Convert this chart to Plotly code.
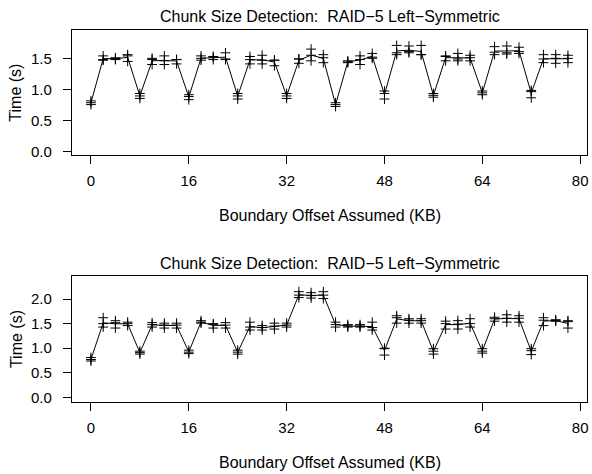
import plotly.graph_objects as go

offsets = list(range(0, 80, 2))

top_trial_hi = [0.82, 1.55, 1.52, 1.57, 0.94, 1.51, 1.55, 1.49, 0.92, 1.55,
                1.54, 1.60, 0.94, 1.54, 1.56, 1.48, 0.94, 1.50, 1.66, 1.57,
                0.79, 1.47, 1.55, 1.59, 0.98, 1.72, 1.71, 1.72, 0.94, 1.55,
                1.59, 1.56, 0.98, 1.70, 1.71, 1.69, 0.99, 1.57, 1.57, 1.56]
top_trial_lo = [0.76, 1.48, 1.49, 1.46, 0.86, 1.41, 1.41, 1.42, 0.84, 1.48,
                1.49, 1.50, 0.85, 1.42, 1.42, 1.39, 0.86, 1.43, 1.47, 1.44,
                0.73, 1.44, 1.41, 1.51, 0.85, 1.57, 1.60, 1.57, 0.88, 1.47,
                1.47, 1.47, 0.92, 1.57, 1.58, 1.59, 0.87, 1.44, 1.43, 1.44]
top_trial_mid = [0.79, 1.49, 1.50, 1.55, 0.90, 1.49, 1.47, 1.49, 0.89, 1.51,
                 1.53, 1.49, 0.90, 1.49, 1.48, 1.48, 0.90, 1.50, 1.56, 1.52,
                 0.76, 1.45, 1.49, 1.53, 0.94, 1.60, 1.62, 1.57, 0.91, 1.54,
                 1.50, 1.52, 0.95, 1.61, 1.60, 1.62, 0.97, 1.50, 1.51, 1.51]

bot_trial_hi = [0.81, 1.62, 1.56, 1.53, 0.94, 1.52, 1.51, 1.51, 0.96, 1.56,
                1.50, 1.52, 0.96, 1.53, 1.46, 1.51, 1.51, 2.15, 2.13, 2.15,
                1.53, 1.48, 1.48, 1.53, 1.00, 1.66, 1.60, 1.60, 0.99, 1.55,
                1.56, 1.60, 0.99, 1.63, 1.68, 1.66, 0.99, 1.62, 1.58, 1.56]
bot_trial_lo = [0.74, 1.43, 1.41, 1.46, 0.88, 1.43, 1.41, 1.41, 0.89, 1.51,
                1.41, 1.41, 0.88, 1.37, 1.37, 1.39, 1.43, 2.03, 2.02, 2.01,
                1.43, 1.43, 1.43, 1.37, 0.86, 1.51, 1.51, 1.51, 0.88, 1.39,
                1.39, 1.43, 0.90, 1.55, 1.53, 1.53, 0.87, 1.46, 1.55, 1.41]
bot_trial_mid = [0.77, 1.50, 1.52, 1.50, 0.91, 1.48, 1.47, 1.47, 0.92, 1.53,
                 1.48, 1.47, 0.92, 1.43, 1.42, 1.45, 1.47, 2.08, 2.07, 2.08,
                 1.48, 1.45, 1.45, 1.42, 0.99, 1.62, 1.57, 1.56, 0.94, 1.50,
                 1.49, 1.50, 0.94, 1.60, 1.61, 1.61, 0.95, 1.57, 1.56, 1.54]

x_ticks = [0, 16, 32, 48, 64, 80]
top_y_ticks = [0.0, 0.5, 1.0, 1.5]
bot_y_ticks = [0.0, 0.5, 1.0, 1.5, 2.0]

title_text = "Chunk Size Detection:  RAID\u22125 Left\u2212Symmetric"
x_title = "Boundary Offset Assumed (KB)"
y_title = "Time (s)"

W, H = 592, 474
FONT = "Liberation Sans, Arial, Helvetica, sans-serif"

fig = go.Figure()

panels = [
    ("x", "y", [top_trial_hi, top_trial_lo, top_trial_mid]),
    ("x2", "y2", [bot_trial_hi, bot_trial_lo, bot_trial_mid]),
]
for xa, ya, trials in panels:
    mean = [sum(v) / len(v) for v in zip(*trials)]
    fig.add_trace(go.Scatter(x=offsets, y=mean, mode="lines",
                             line=dict(color="black", width=1),
                             xaxis=xa, yaxis=ya, showlegend=False,
                             hoverinfo="skip"))
    xs, ys = [], []
    for t in trials:
        xs += offsets
        ys += t
    fig.add_trace(go.Scatter(x=xs, y=ys, mode="markers",
                             marker=dict(symbol="cross-thin-open", size=7,
                                         line=dict(color="black", width=1),
                                         color="black"),
                             xaxis=xa, yaxis=ya, showlegend=False))

def px_x(p):
    return p / W

def px_y(p):
    return 1 - p / H

axis_common = dict(showline=True, mirror=True, linecolor="black", linewidth=1,
                   ticks="outside", ticklen=8, tickcolor="black", tickwidth=1,
                   showgrid=False, zeroline=False,
                   tickfont=dict(family=FONT, size=15, color="black"))

xdom = [px_x(72), px_x(588)]
fig.update_layout(
    width=W, height=H,
    margin=dict(l=0, r=0, t=0, b=0),
    plot_bgcolor="white", paper_bgcolor="white",
    xaxis=dict(domain=xdom, range=[-3.12, 81.12], tickvals=x_ticks,
               anchor="y", ticklabelstandoff=4, **axis_common),
    yaxis=dict(domain=[px_y(156.7), px_y(30.5)], range=[-0.064, 1.966],
               tickvals=top_y_ticks, tickformat=".1f", anchor="x",
               ticklabelstandoff=8, **axis_common),
    xaxis2=dict(domain=xdom, range=[-3.12, 81.12], tickvals=x_ticks,
                anchor="y2", ticklabelstandoff=4, **axis_common),
    yaxis2=dict(domain=[px_y(405.7), px_y(278.3)], range=[-0.10, 2.47],
                tickvals=bot_y_ticks, tickformat=".1f", anchor="x2",
                ticklabelstandoff=8, **axis_common),
)

ann_font = dict(family=FONT, size=16, color="black")
cx = px_x(331)
annots = [
    dict(text=title_text, x=cx, y=px_y(17), xref="paper", yref="paper",
         showarrow=False, xanchor="center", yanchor="middle", font=ann_font),
    dict(text=x_title, x=cx, y=px_y(217), xref="paper", yref="paper",
         showarrow=False, xanchor="center", yanchor="middle", font=ann_font),
    dict(text=y_title, x=px_x(16), y=px_y(93.5), xref="paper", yref="paper",
         showarrow=False, xanchor="center", yanchor="middle", textangle=-90,
         font=ann_font),
    dict(text=title_text, x=cx, y=px_y(266), xref="paper", yref="paper",
         showarrow=False, xanchor="center", yanchor="middle", font=ann_font),
    dict(text=x_title, x=cx, y=px_y(466), xref="paper", yref="paper",
         showarrow=False, xanchor="center", yanchor="middle", font=ann_font),
    dict(text=y_title, x=px_x(16), y=px_y(342), xref="paper", yref="paper",
         showarrow=False, xanchor="center", yanchor="middle", textangle=-90,
         font=ann_font),
]
fig.update_layout(annotations=annots)

fig.write_html("out.html")
